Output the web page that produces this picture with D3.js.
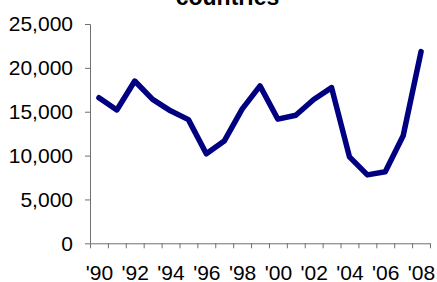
<!DOCTYPE html>
<html>
<head>
<meta charset="utf-8">
<script src="https://cdn.jsdelivr.net/npm/d3@7"></script>
<style>
  body { margin: 0; background: #fff; }
  svg { display: block; font-family: "Liberation Sans", Arial, sans-serif; }
</style>
</head>
<body>
<div id="chart"></div>
<script>
const years = [1990, 1991, 1992, 1993, 1994, 1995, 1996, 1997, 1998, 1999,
  2000, 2001, 2002, 2003, 2004, 2005, 2006, 2007, 2008];
const values = [16600, 15200, 18500, 16400, 15100, 14100, 10200, 11650, 15300, 17950,
  14150, 14600, 16400, 17750, 9850, 7800, 8150, 12250, 21850];
const yTicks = [0, 5000, 10000, 15000, 20000, 25000];
const xLabelYears = [1990, 1992, 1994, 1996, 1998, 2000, 2002, 2004, 2006, 2008];
const titleText = "countries";

const drawChart = () => {
  const width = 437;
  const height = 282;
  const margin = { top: 24, left: 90, bottom: 38.7, right: 7 };
  const iwidth = width - margin.left - margin.right;
  const iheight = height - margin.top - margin.bottom;

  const svg = d3.select("#chart").append("svg")
    .attr("width", width)
    .attr("height", height);

  svg.append("text")
    .attr("x", 227.5)
    .attr("y", 5)
    .attr("text-anchor", "middle")
    .style("font-size", "23px")
    .style("font-weight", "bold")
    .text(titleText);

  const g = svg.append("g").attr("transform", `translate(${margin.left},${margin.top})`);

  const y = d3.scaleLinear()
    .domain([0, 25000])
    .range([iheight, 0]);

  const x = d3.scaleLinear()
    .domain([years[0] - 0.5, years[years.length - 1] + 0.5])
    .range([0, iwidth]);

  const axisColor = "#707070";

  // y axis
  const yAxis = g.append("g")
    .call(d3.axisLeft(y).tickValues(yTicks).tickSize(5).tickSizeOuter(5).tickPadding(12)
      .tickFormat(d3.format(",")));
  yAxis.selectAll("path, line").attr("stroke", axisColor);
  yAxis.selectAll("text").style("font-size", "21px").attr("fill", "#000");
  yAxis.select(".domain").attr("d", `M-5,0.5H0.5V${iheight}`);

  // x axis: tick marks on category boundaries
  const bounds = d3.range(years.length + 1).map(i => years[0] - 0.5 + i);
  const xAxis = g.append("g")
    .attr("transform", `translate(0,${iheight})`)
    .call(d3.axisBottom(x).tickValues(bounds).tickSize(5).tickSizeOuter(0).tickFormat(""));
  xAxis.selectAll("path, line").attr("stroke", axisColor);

  // x labels at category centres
  const xLab = g.append("g")
    .attr("transform", `translate(0,${iheight})`)
    .call(d3.axisBottom(x).tickValues(xLabelYears).tickSize(0).tickPadding(22)
      .tickFormat(d => "'" + String(d).slice(2)));
  xLab.select(".domain").remove();
  xLab.selectAll("text").style("font-size", "21px").attr("fill", "#000");

  const line = d3.line()
    .x((d, i) => x(years[i]))
    .y(d => y(d));

  g.append("path")
    .datum(values)
    .attr("fill", "none")
    .attr("stroke", "#000080")
    .attr("stroke-width", 5.5)
    .attr("stroke-linejoin", "round")
    .attr("stroke-linecap", "round")
    .attr("d", line);
};

drawChart();
</script>
</body>
</html>
